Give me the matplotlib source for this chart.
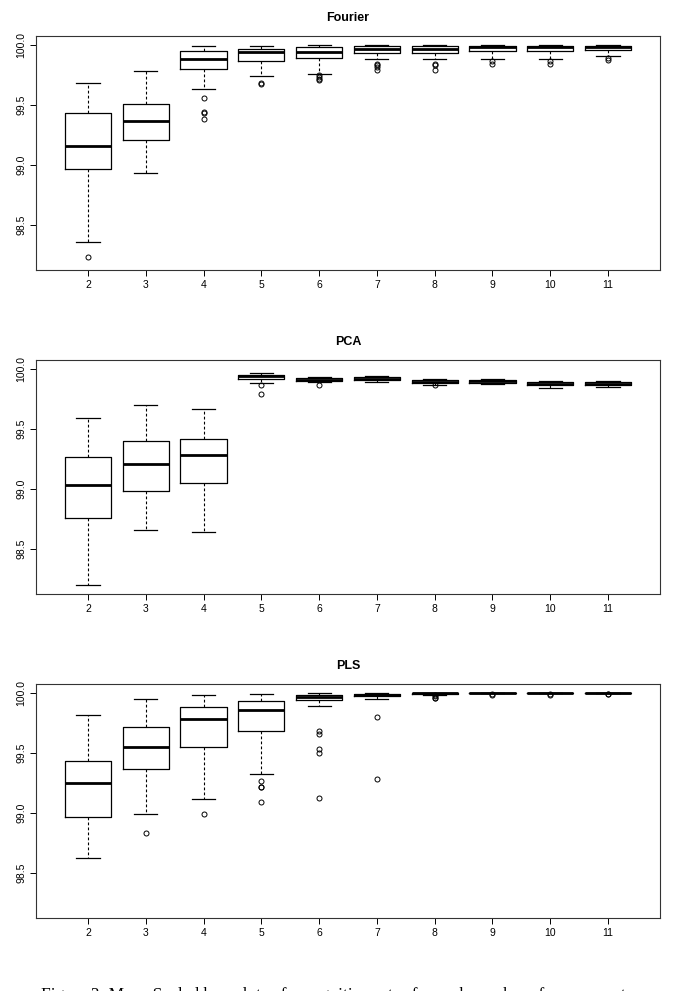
import matplotlib
matplotlib.use("Agg")
import matplotlib.pyplot as plt

# --- box statistics (percent) ---
positions = [2, 3, 4, 5, 6, 7, 8, 9, 10, 11]

fourier_whislo = [98.36, 98.93, 99.63, 99.74, 99.76, 99.88, 99.88, 99.88, 99.88, 99.905]
fourier_q1 = [98.97, 99.21, 99.80, 99.87, 99.89, 99.93, 99.93, 99.95, 99.95, 99.96]
fourier_med = [99.16, 99.37, 99.88, 99.94, 99.945, 99.97, 99.97, 99.98, 99.98, 99.98]
fourier_q3 = [99.43, 99.51, 99.95, 99.97, 99.98, 99.99, 99.99, 99.995, 99.995, 99.995]
fourier_whishi = [99.686, 99.78, 99.995, 99.995, 100.0, 100.0, 100.0, 100.0, 100.0, 100.0]
fourier_fliers = [[98.23], [], [99.556, 99.44, 99.43, 99.38], [99.675, 99.68],
                  [99.75, 99.73, 99.72, 99.71], [99.84, 99.83, 99.82, 99.79],
                  [99.84, 99.83, 99.79], [99.87, 99.84], [99.87, 99.84], [99.895, 99.875]]

pca_whislo = [98.20, 98.66, 98.645, 99.88, 99.89, 99.895, 99.87, 99.875, 99.845, 99.85]
pca_q1 = [98.76, 98.985, 99.05, 99.92, 99.90, 99.91, 99.88, 99.885, 99.865, 99.865]
pca_med = [99.03, 99.21, 99.28, 99.94, 99.91, 99.92, 99.89, 99.897, 99.872, 99.875]
pca_q3 = [99.27, 99.40, 99.42, 99.95, 99.925, 99.93, 99.905, 99.91, 99.89, 99.895]
pca_whishi = [99.59, 99.70, 99.67, 99.97, 99.935, 99.94, 99.915, 99.915, 99.897, 99.90]
pca_fliers = [[], [], [], [99.87, 99.795], [99.87], [], [99.868], [], [], []]

pls_whislo = [98.623, 98.99, 99.12, 99.325, 99.89, 99.95, 99.985, 99.996, 99.996, 99.996]
pls_q1 = [98.966, 99.37, 99.55, 99.685, 99.94, 99.975, 99.99, 99.998, 99.998, 99.998]
pls_med = [99.253, 99.548, 99.785, 99.855, 99.964, 99.986, 99.997, 99.999, 99.999, 99.999]
pls_q3 = [99.437, 99.713, 99.886, 99.936, 99.986, 99.995, 99.998, 100.0, 100.0, 100.0]
pls_whishi = [99.816, 99.947, 99.98, 99.994, 99.997, 100.0, 100.0, 100.0, 100.0, 100.0]
pls_fliers = [[], [98.83], [98.995], [99.27, 99.22, 99.215, 99.09],
              [99.68, 99.66, 99.53, 99.50, 99.125], [99.797, 99.28],
              [99.98, 99.975, 99.96, 99.955], [99.99, 99.985], [99.99, 99.985], [99.99, 99.988]]

panel_titles = ["Fourier", "PCA", "PLS"]
y_ticks = [98.5, 99.0, 99.5, 100.0]
y_tick_labels = ["98.5", "99.0", "99.5", "100.0"]
caption = "Figure 3: Mean Scaled box plots of recognition rates for each number of components"

panels = [
    (fourier_whislo, fourier_q1, fourier_med, fourier_q3, fourier_whishi, fourier_fliers),
    (pca_whislo, pca_q1, pca_med, pca_q3, pca_whishi, pca_fliers),
    (pls_whislo, pls_q1, pls_med, pls_q3, pls_whishi, pls_fliers),
]

plt.rcParams['font.family'] = ['Liberation Sans', 'DejaVu Sans']

W, H = 674, 991
fig = plt.figure(figsize=(W / 100, H / 100), dpi=100)
fig.patch.set_facecolor("white")

# axes boxes in pixels: (left, top, right, bottom)
ax_px = [(36, 36, 660, 270), (36, 360, 660, 594), (36, 684, 660, 918)]


def make_stats(whislo, q1, med, q3, whishi, fliers):
    stats = []
    for i in range(len(med)):
        stats.append(dict(whislo=whislo[i], q1=q1[i], med=med[i], q3=q3[i],
                          whishi=whishi[i], fliers=fliers[i]))
    return stats


for (l, t, r, b), title, data in zip(ax_px, panel_titles, panels):
    ax = fig.add_axes([l / W, (H - b) / H, (r - l) / W, (b - t) / H])
    ax.bxp(make_stats(*data), positions=positions, widths=0.8,
           boxprops=dict(color="black", linewidth=0.9),
           medianprops=dict(color="black", linewidth=2.0, solid_capstyle="butt"),
           whiskerprops=dict(color="black", linewidth=0.8, linestyle=(0, (2.5, 2))),
           capprops=dict(color="black", linewidth=0.9),
           flierprops=dict(marker="o", markerfacecolor="none", markeredgecolor="black",
                           markersize=3.6, markeredgewidth=0.7, linestyle="none"),
           capwidths=0.4)
    ax.set_xlim(1.1, 11.9)
    ax.set_ylim(98.125, 100.075)
    ax.set_xticks(positions)
    ax.set_xticklabels([str(p) for p in positions], fontsize=7.5)
    ax.set_yticks(y_ticks)
    ax.set_yticklabels(y_tick_labels, fontsize=7.5, rotation=90, va="center")
    ax.tick_params(axis="both", length=4, width=0.7, direction="out", pad=3)
    for s in ax.spines.values():
        s.set_linewidth(0.8)
        s.set_color("#333333")
    ax.text(0.5, 1 + 18 / (b - t), title, transform=ax.transAxes,
            ha="center", va="center", fontsize=9, fontweight="bold")

# caption sits partly below the bottom edge, as in the reference
fig.text(0.5, 1 - 987 / H, caption, ha="center", va="top",
         fontsize=12.5, family=["Liberation Serif", "DejaVu Serif"])

fig.savefig("out.png", dpi=100, facecolor="white")
